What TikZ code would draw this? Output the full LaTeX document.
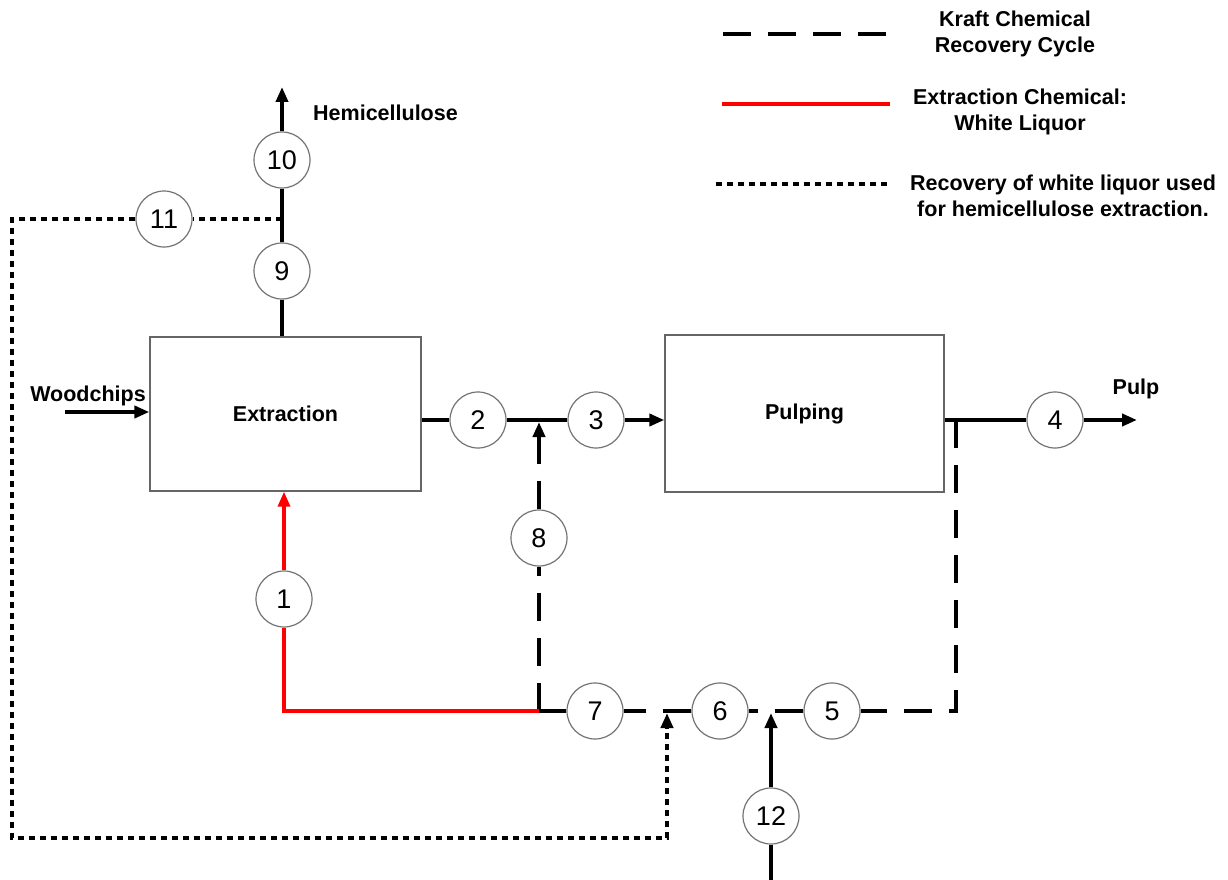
\documentclass[tikz,border=0pt]{standalone}
\usepackage{fontspec}
\setmainfont{Liberation Sans}
\usetikzlibrary{arrows.meta}
\tikzset{
  box/.style={draw=black!60, line width=1.3pt, fill=white, inner sep=0pt, font=\fontsize{21.5}{26}\selectfont\bfseries},
  num/.style={circle, draw=black!55, line width=1.2pt, fill=white, minimum size=56pt, inner sep=0pt, font=\fontsize{27}{30}\selectfont},
  lbl/.style={font=\fontsize{21.5}{26}\selectfont\bfseries, align=center, inner sep=0pt},
  flow/.style={line width=4pt, black},
  kraft/.style={line width=4pt, black, dash pattern=on 28pt off 17pt},
  recov/.style={line width=4pt, black, dash pattern=on 6pt off 5pt},
  wl/.style={line width=3.4pt, red},
  tip/.style={-{Triangle[length=15pt,width=12pt]}}
}
\begin{document}
\begin{tikzpicture}[x=1pt,y=-1pt]
\useasboundingbox (0,0) rectangle (1228,880);
% boxes
\node[box, minimum width=271pt, minimum height=154pt] (ext) at (285.5,414) {Extraction};
\node[box, minimum width=279pt, minimum height=157pt] (pulp) at (804.5,413.5) {Pulping};
% junction coordinates
\coordinate (j9) at (282,219);
\coordinate (ht) at (282,87);
\coordinate (d1) at (12,219);
\coordinate (d2) at (12,838);
\coordinate (d3) at (667,838);
\coordinate (da) at (667,728);
\coordinate (dt) at (667,713);
\coordinate (k1) at (956,420);
\coordinate (k2) at (956,711);
\coordinate (k3) at (539,711);
\coordinate (ka) at (539,437);
\coordinate (kt) at (539,422);
\coordinate (r1) at (284,711);
\coordinate (wc) at (65,412);
\coordinate (pt) at (1137,420);
\coordinate (t12) at (771,880);
\coordinate (tt12) at (771,713);
% circles
\node[num] (c10) at (282,160) {10};
\node[num] (c11) at (164,219) {11};
\node[num] (c9) at (282,271) {9};
\node[num] (c2) at (478,420) {2};
\node[num] (c3) at (596,420) {3};
\node[num] (c4) at (1055,420) {4};
\node[num] (c8) at (539,538) {8};
\node[num] (c1) at (284,599) {1};
\node[num] (c7) at (595,711) {7};
\node[num] (c6) at (720,711) {6};
\node[num] (c5) at (832,711) {5};
\node[num] (c12) at (771,816) {12};
% hemicellulose line
\draw[flow] (ext.north -| c9) -- (c9);
\draw[flow] (c9) -- (c10);
\draw[flow, tip] (c10) -- (ht);
% recovery dotted
\draw[recov] (j9) -- (c11);
\draw[recov] (c11) -- (d1) -- (d2) -- (d3) -- (da);
\draw[flow, tip] (da) -- (dt);
% woodchips
\draw[flow, tip] (wc) -- (ext.west |- wc);
% main line
\draw[flow] (ext.east |- c2) -- (c2);
\draw[flow] (c2) -- (c3);
\draw[flow, tip] (c3) -- (pulp.west |- c3);
\draw[flow] (pulp.east |- c4) -- (c4);
\draw[flow, tip] (c4) -- (pt);
% kraft cycle
\draw[kraft] (k1) -- (k2) -- (c5);
\draw[kraft] (c5) -- (c6);
\draw[kraft] (c6) -- (c7);
\draw[flow] (c7) -- (k3);
\draw[kraft] (k3) -- (c8);
\draw[kraft] (c8) -- (ka);
\draw[flow, tip] (ka) -- (kt);
% white liquor
\draw[wl] (k3) -- (r1) -- (c1);
\draw[wl, tip] (c1) -- (ext.south -| c1);
% stream 12
\draw[flow] (t12) -- (c12);
\draw[flow, tip] (c12) -- (tt12);
% labels
\node[lbl, anchor=west] (hl) at (313,113) {Hemicellulose};
\node[lbl] (wl) at (88,396) {Woodchips};
\node[lbl] (pl) at (1136,389) {Pulp};
% legend
\coordinate (la1) at (723,34); \coordinate (la2) at (888,34);
\coordinate (lb1) at (722,104); \coordinate (lb2) at (890,104);
\coordinate (lc1) at (716,184); \coordinate (lc2) at (890,184);
\draw[kraft] (la1) -- (la2);
\draw[wl] (lb1) -- (lb2);
\draw[recov] (lc1) -- (lc2);
\node[lbl] (lt1) at (1015,34) {Kraft Chemical\\Recovery Cycle};
\node[lbl] (lt2) at (1020,112) {Extraction Chemical:\\White Liquor};
\node[lbl] (lt3) at (1063,196) {Recovery of white liquor used\\for hemicellulose extraction.};
\end{tikzpicture}
\end{document}
